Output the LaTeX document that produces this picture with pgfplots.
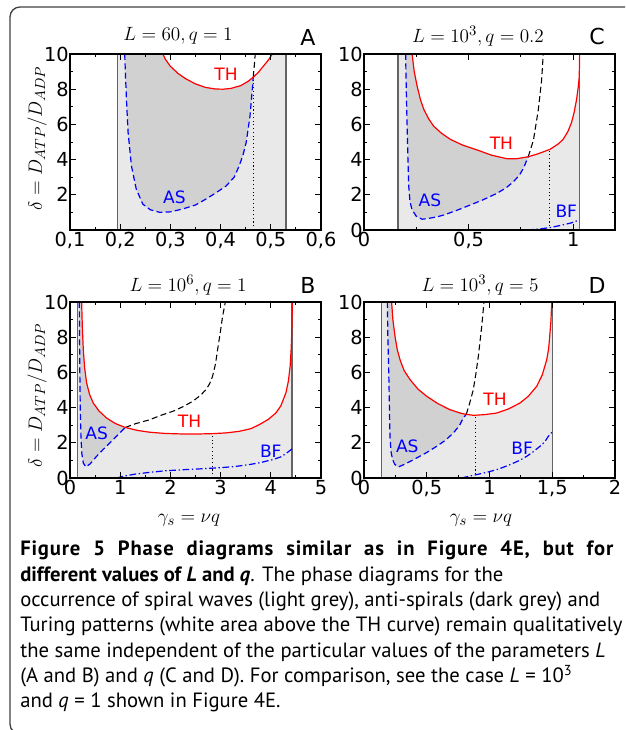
\documentclass[border=0pt]{standalone}
\usepackage{fontspec}
\setmainfont{DejaVu Sans}
\newfontfamily\capfont{PT Sans}
\newfontfamily\capfontls[LetterSpace=4]{PT Sans}
\usepackage{pgfplots}
\pgfplotsset{compat=1.18}

\definecolor{lightg}{RGB}{233,233,233}
\definecolor{darkg}{RGB}{209,209,209}
\definecolor{vline}{RGB}{100,100,100}

\tikzset{lab/.style={font=\fontsize{12.8}{13}\selectfont}}
\pgfplotsset{
  panel/.style={
    scale only axis, width=188.25pt, height=132pt,
    ymin=0, ymax=10, axis on top,
    axis line style={line width=0.9pt, black},
    tick align=inside, xtick pos=both, ytick pos=both,
    major tick length=4.5pt, minor tick length=2.3pt,
    every tick/.style={black, line width=0.7pt},
    minor ytick={1,3,5,7,9},
    ytick={0,2,4,6,8,10}, yticklabels={0,2,4,6,8,10},
    tick label style={font=\fontsize{14.5}{15}\selectfont},
    yticklabel style={inner sep=0.8pt},
    xticklabel style={inner sep=1.5pt},
  },
  sep/.style={draw=vline, line width=1.1pt},
  th/.style={red, line width=0.9pt},
  as/.style={blue, line width=0.9pt, dash pattern=on 4.5pt off 2.5pt},
  ext/.style={black, line width=0.8pt, dash pattern=on 4.5pt off 2.5pt},
  bf/.style={blue, line width=0.9pt, dash pattern=on 5pt off 2pt on 1pt off 2pt},
  dot/.style={black, line width=0.8pt, dotted},
}

\begin{document}
\begin{tikzpicture}[x=0.75pt,y=0.75pt]
\path[use as bounding box] (0,0) rectangle (625,730);
\clip (0,0) rectangle (625,730);
\draw[black!75, line width=1pt, rounded corners=7.5pt] (10,-4) rectangle (650,723);
\coordinate (pA) at (70,500);
\coordinate (pC) at (364,500);
\coordinate (pB) at (70,252);
\coordinate (pD) at (364,252);

% ---------------- A ----------------
\begin{axis}[panel, at={(pA)}, anchor=south west,
  xmin=0.1, xmax=0.6,
  xtick={0.1,0.2,0.3,0.4,0.5,0.6},
  xticklabels={{0,1},{0,2},{0,3},{0,4},{0,5},{0,6}},
  minor xtick={0.15,0.25,0.35,0.45,0.55},
  ytick={2,4,6,8,10}, yticklabels={2,4,6,8,10}]
\addplot[draw=none, fill=lightg] coordinates {(0.195,0) (0.53,0) (0.53,10) (0.195,10)} -- cycle;
\addplot[draw=none, fill=white] coordinates {
 (0.285,10) (0.29,9.7) (0.30,9.3) (0.315,8.9) (0.33,8.6) (0.35,8.3) (0.37,8.1) (0.39,8.01)
 (0.405,8.0) (0.42,8.04) (0.44,8.2) (0.455,8.45) (0.465,8.68) (0.475,8.95) (0.485,9.3)
 (0.495,9.65) (0.503,10)} -- cycle;
\addplot[draw=none, fill=darkg] coordinates {
 (0.209,10) (0.2105,8.8) (0.2125,7.4) (0.2157,5.55) (0.2224,3.64) (0.232,2.32) (0.245,1.47)
 (0.26,1.15) (0.279,1.0) (0.30,1.03) (0.324,1.19) (0.35,1.42) (0.371,1.76) (0.39,2.1)
 (0.411,2.5) (0.427,3.0) (0.437,3.64) (0.445,4.3) (0.451,4.98) (0.4585,6.46) (0.4637,8.16)
 (0.465,8.68) (0.455,8.45) (0.44,8.2) (0.42,8.04) (0.405,8.0) (0.39,8.01) (0.37,8.1)
 (0.35,8.3) (0.33,8.6) (0.315,8.9) (0.30,9.3) (0.29,9.7) (0.285,10)} -- cycle;
\addplot[sep] coordinates {(0.195,0) (0.195,10)};
\addplot[sep] coordinates {(0.53,0) (0.53,10)};
\addplot[dot] coordinates {(0.466,0) (0.466,8.68)};
\addplot[as] coordinates {
 (0.209,10) (0.2105,8.8) (0.2125,7.4) (0.2157,5.55) (0.2224,3.64) (0.232,2.32) (0.245,1.47)
 (0.26,1.15) (0.279,1.0) (0.30,1.03) (0.324,1.19) (0.35,1.42) (0.371,1.76) (0.39,2.1)
 (0.411,2.5) (0.427,3.0) (0.437,3.64) (0.445,4.3) (0.451,4.98) (0.4585,6.46) (0.4637,8.16)
 (0.465,8.68)};
\addplot[ext] coordinates {(0.465,8.68) (0.467,9.3) (0.469,10)};
\addplot[th] coordinates {
 (0.285,10) (0.29,9.7) (0.30,9.3) (0.315,8.9) (0.33,8.6) (0.35,8.3) (0.37,8.1) (0.39,8.01)
 (0.405,8.0) (0.42,8.04) (0.44,8.2) (0.455,8.45) (0.465,8.68) (0.475,8.95) (0.485,9.3)
 (0.495,9.65) (0.503,10)};
\node[lab, red] at (axis cs:0.411,8.84) {TH};
\node[lab, blue] at (axis cs:0.308,1.85) {AS};
\end{axis}

% ---------------- C ----------------
\begin{axis}[panel, at={(pC)}, anchor=south west,
  xmin=0, xmax=1.2,
  xtick={0,0.5,1}, xticklabels={0,{0,5},1},
  minor xtick={0.25,0.75}]
\addplot[draw=none, fill=lightg] coordinates {(0.162,0) (1.029,0) (1.029,10) (0.162,10)} -- cycle;
\addplot[draw=none, fill=white] coordinates {
 (0.23,10) (0.24,9.0) (0.254,8.17) (0.27,7.4) (0.286,6.85) (0.31,6.3) (0.333,5.9) (0.37,5.5)
 (0.413,5.15) (0.47,4.83) (0.54,4.55) (0.61,4.25) (0.683,4.05) (0.73,4.05) (0.785,4.16)
 (0.83,4.32) (0.889,4.58) (0.93,4.9) (0.952,5.15) (0.975,5.6) (0.992,6.1) (1.005,6.7)
 (1.016,7.4) (1.024,8.1) (1.029,8.7) (1.031,10)} -- cycle;
\addplot[draw=none, fill=darkg] coordinates {
 (0.199,10) (0.202,8) (0.205,6.5) (0.207,5.5) (0.21,4) (0.214,2.46) (0.22,1.6) (0.23,1.14)
 (0.25,0.78) (0.278,0.61) (0.31,0.66) (0.35,0.75) (0.381,0.85) (0.44,1.1) (0.508,1.42)
 (0.57,1.72) (0.635,2.08) (0.68,2.4) (0.714,2.74) (0.742,3.1) (0.762,3.5) (0.785,4.16)
 (0.73,4.05) (0.683,4.05) (0.61,4.25) (0.54,4.55) (0.47,4.83) (0.413,5.15) (0.37,5.5)
 (0.333,5.9) (0.31,6.3) (0.286,6.85) (0.27,7.4) (0.254,8.17) (0.24,9.0) (0.23,10)} -- cycle;
\addplot[sep] coordinates {(0.162,0) (0.162,10)};
\addplot[sep] coordinates {(1.029,0) (1.029,10)};
\addplot[dot] coordinates {(0.889,0) (0.889,4.58)};
\addplot[bf] coordinates {(0.78,0) (0.84,0.06) (0.89,0.14) (0.94,0.26) (0.99,0.4) (1.029,0.57)};
\addplot[as] coordinates {
 (0.199,10) (0.202,8) (0.205,6.5) (0.207,5.5) (0.21,4) (0.214,2.46) (0.22,1.6) (0.23,1.14)
 (0.25,0.78) (0.278,0.61) (0.31,0.66) (0.35,0.75) (0.381,0.85) (0.44,1.1) (0.508,1.42)
 (0.57,1.72) (0.635,2.08) (0.68,2.4) (0.714,2.74) (0.742,3.1) (0.762,3.5) (0.785,4.16)};
\addplot[ext] coordinates {(0.785,4.16) (0.81,5.1) (0.833,6.8) (0.849,8.5) (0.857,10)};
\addplot[th] coordinates {
 (0.23,10) (0.24,9.0) (0.254,8.17) (0.27,7.4) (0.286,6.85) (0.31,6.3) (0.333,5.9) (0.37,5.5)
 (0.413,5.15) (0.47,4.83) (0.54,4.55) (0.61,4.25) (0.683,4.05) (0.73,4.05) (0.785,4.16)
 (0.83,4.32) (0.889,4.58) (0.93,4.9) (0.952,5.15) (0.975,5.6) (0.992,6.1) (1.005,6.7)
 (1.016,7.4) (1.024,8.1) (1.029,8.7) (1.031,10)};
\node[lab, red] at (axis cs:0.657,4.93) {TH};
\node[lab, blue] at (axis cs:0.315,1.7) {AS};
\node[lab, blue] at (axis cs:0.967,1.08) {BF};
\end{axis}

% ---------------- B ----------------
\begin{axis}[panel, at={(pB)}, anchor=south west,
  xmin=0, xmax=5,
  xtick={0,1,2,3,4,5}, xticklabels={0,1,2,3,4,5},
  minor xtick={0.5,1.5,2.5,3.5,4.5}]
\addplot[draw=none, fill=lightg] coordinates {(0.145,0) (4.42,0) (4.42,10) (0.145,10)} -- cycle;
\addplot[draw=none, fill=white] coordinates {
 (0.232,10) (0.245,8.6) (0.265,7.29) (0.29,6.3) (0.331,5.4) (0.39,4.75) (0.463,4.26) (0.58,3.8)
 (0.728,3.41) (0.9,3.1) (1.10,2.87) (1.35,2.7) (1.587,2.6) (1.9,2.53) (2.25,2.5) (2.55,2.5)
 (2.84,2.52) (3.1,2.56) (3.37,2.65) (3.6,2.8) (3.77,3.03) (3.95,3.33) (4.10,3.69) (4.2,4.1)
 (4.30,4.83) (4.35,5.5) (4.385,6.34) (4.405,7.3) (4.418,8.24) (4.43,10)} -- cycle;
\addplot[draw=none, fill=darkg] coordinates {
 (0.185,10) (0.19,8) (0.198,5.4) (0.205,3.8) (0.218,2.37) (0.235,1.4) (0.265,0.85) (0.317,0.63)
 (0.4,0.8) (0.529,1.23) (0.66,1.62) (0.794,1.99) (0.93,2.38) (1.058,2.75) (1.10,2.87)
 (0.9,3.1) (0.728,3.41) (0.58,3.8) (0.463,4.26) (0.39,4.75) (0.331,5.4) (0.29,6.3)
 (0.265,7.29) (0.245,8.6) (0.232,10)} -- cycle;
\addplot[sep] coordinates {(0.145,0) (0.145,10)};
\addplot[sep] coordinates {(4.42,0) (4.42,10)};
\addplot[dot] coordinates {(2.83,0) (2.83,2.52)};
\addplot[bf] coordinates {
 (0.926,0) (1.1,0.12) (1.3,0.22) (1.587,0.32) (1.9,0.41) (2.25,0.47) (2.6,0.52) (2.91,0.57)
 (3.25,0.64) (3.57,0.76) (3.8,0.88) (4.03,1.04) (4.2,1.2) (4.30,1.38) (4.42,1.65)};
\addplot[as] coordinates {
 (0.185,10) (0.19,8) (0.198,5.4) (0.205,3.8) (0.218,2.37) (0.235,1.4) (0.265,0.85) (0.317,0.63)
 (0.4,0.8) (0.529,1.23) (0.66,1.62) (0.794,1.99) (0.93,2.38) (1.058,2.75) (1.10,2.87)};
\addplot[ext] coordinates {
 (1.10,2.87) (1.3,3.08) (1.587,3.31) (1.8,3.55) (2.05,3.79) (2.25,4.05) (2.447,4.36) (2.6,4.7)
 (2.71,5.02) (2.78,5.35) (2.84,5.78) (2.9,6.5) (2.94,7.29) (2.99,8.2) (3.04,9.19) (3.095,10)};
\addplot[th] coordinates {
 (0.232,10) (0.245,8.6) (0.265,7.29) (0.29,6.3) (0.331,5.4) (0.39,4.75) (0.463,4.26) (0.58,3.8)
 (0.728,3.41) (0.9,3.1) (1.10,2.87) (1.35,2.7) (1.587,2.6) (1.9,2.53) (2.25,2.5) (2.55,2.5)
 (2.84,2.52) (3.1,2.56) (3.37,2.65) (3.6,2.8) (3.77,3.03) (3.95,3.33) (4.10,3.69) (4.2,4.1)
 (4.30,4.83) (4.35,5.5) (4.385,6.34) (4.405,7.3) (4.418,8.24) (4.43,10)};
\node[lab, red] at (axis cs:2.38,3.22) {TH};
\node[lab, blue] at (axis cs:0.53,2.52) {AS};
\node[lab, blue] at (axis cs:4.0,1.52) {BF};
\end{axis}

% ---------------- D ----------------
\begin{axis}[panel, at={(pD)}, anchor=south west,
  xmin=0, xmax=2,
  xtick={0,0.5,1,1.5,2}, xticklabels={0,{0,5},1,{1,5},2},
  minor xtick={0.25,0.75,1.25,1.75}]
\addplot[draw=none, fill=lightg] coordinates {(0.141,0) (1.503,0) (1.503,10) (0.141,10)} -- cycle;
\addplot[draw=none, fill=white] coordinates {
 (0.22,10) (0.23,9.0) (0.247,8.05) (0.265,7.3) (0.287,6.72) (0.32,6.1) (0.367,5.59) (0.43,5.05)
 (0.5,4.64) (0.59,4.22) (0.685,3.88) (0.78,3.66) (0.815,3.62) (0.871,3.56) (0.96,3.6)
 (1.057,3.69) (1.15,3.92) (1.243,4.26) (1.31,4.65) (1.376,5.21) (1.42,5.85) (1.456,6.72)
 (1.472,7.4) (1.482,8.24) (1.49,9.0) (1.496,10)} -- cycle;
\addplot[draw=none, fill=darkg] coordinates {
 (0.186,10) (0.19,8) (0.199,5.4) (0.203,3.8) (0.207,2.37) (0.215,1.5) (0.228,1.04) (0.245,0.78)
 (0.273,0.625) (0.33,0.8) (0.42,1.14) (0.5,1.45) (0.579,1.8) (0.65,2.15) (0.712,2.56)
 (0.76,2.97) (0.791,3.41) (0.815,3.62) (0.78,3.66) (0.685,3.88) (0.59,4.22) (0.5,4.64)
 (0.43,5.05) (0.367,5.59) (0.32,6.1) (0.287,6.72) (0.265,7.3) (0.247,8.05) (0.23,9.0)
 (0.22,10)} -- cycle;
\addplot[sep] coordinates {(0.141,0) (0.141,10)};
\addplot[sep] coordinates {(1.503,0) (1.503,10)};
\addplot[dot] coordinates {(0.89,0) (0.89,3.56)};
\addplot[bf] coordinates {
 (0.778,0) (0.87,0.15) (0.978,0.32) (1.07,0.5) (1.163,0.76) (1.24,1.0) (1.296,1.23) (1.35,1.5)
 (1.402,1.8) (1.44,2.05) (1.469,2.37) (1.503,2.65)};
\addplot[as] coordinates {
 (0.186,10) (0.19,8) (0.199,5.4) (0.203,3.8) (0.207,2.37) (0.215,1.5) (0.228,1.04) (0.245,0.78)
 (0.273,0.625) (0.33,0.8) (0.42,1.14) (0.5,1.45) (0.579,1.8) (0.65,2.15) (0.712,2.56)
 (0.76,2.97) (0.791,3.41) (0.815,3.62)};
\addplot[ext] coordinates {
 (0.815,3.62) (0.84,4.2) (0.871,5.02) (0.891,5.9) (0.911,6.91) (0.925,7.8) (0.938,8.62) (0.956,10)};
\addplot[th] coordinates {
 (0.22,10) (0.23,9.0) (0.247,8.05) (0.265,7.3) (0.287,6.72) (0.32,6.1) (0.367,5.59) (0.43,5.05)
 (0.5,4.64) (0.59,4.22) (0.685,3.88) (0.78,3.66) (0.815,3.62) (0.871,3.56) (0.96,3.6)
 (1.057,3.69) (1.15,3.92) (1.243,4.26) (1.31,4.65) (1.376,5.21) (1.42,5.85) (1.456,6.72)
 (1.472,7.4) (1.482,8.24) (1.49,9.0) (1.496,10)};
\node[lab, red] at (axis cs:1.044,4.5) {TH};
\node[lab, blue] at (axis cs:0.345,1.8) {AS};
\node[lab, blue] at (axis cs:1.26,1.7) {BF};
\end{axis}

% titles, panel letters, axis labels
\node at (178,694) {\fontsize{15.5}{15.5}\selectfont $L=60, q=1$};
\node at (478,694) {\fontsize{15.5}{15.5}\selectfont $L=10^3, q=0.2$};
\node at (188,445) {\fontsize{15.5}{15.5}\selectfont $L=10^6, q=1$};
\node at (480,445) {\fontsize{15.5}{15.5}\selectfont $L=10^3, q=5$};
\node at (308,693) {\fontsize{16.5}{17}\selectfont A};
\node at (597,693) {\fontsize{16.5}{17}\selectfont C};
\node at (308,445) {\fontsize{16.5}{17}\selectfont B};
\node at (597,445) {\fontsize{16.5}{17}\selectfont D};
\node[rotate=90, anchor=west] at (37,515) {\fontsize{15}{15}\selectfont $\delta = D_{ATP}/D_{ADP}$};
\node[rotate=90, anchor=west] at (37,258) {\fontsize{15}{15}\selectfont $\delta = D_{ATP}/D_{ADP}$};
\node at (189,210) {\fontsize{15}{15}\selectfont $\gamma_s = \nu q$};
\node at (481,210) {\fontsize{15}{15}\selectfont $\gamma_s = \nu q$};

% caption
\begin{scope}[every node/.style={anchor=base west, inner sep=0pt, font=\capfont\fontsize{15.5}{16}\selectfont}]
\node at (20,174) {\makebox[444.75pt][s]{\capfontls\fontsize{15.5}{16}\selectfont\bfseries Figure 5 Phase diagrams similar as in Figure 4E, but for}};
\node at (20,148.7) {\textbf{different values of \textit{L} and \textit{q}}. The phase diagrams for the};
\node at (20,123.4) {occurrence of spiral waves (light grey), anti-spirals (dark grey) and};
\node at (20,98.1) {Turing patterns (white area above the TH curve) remain qualitatively};
\node at (20,72.8) {the same independent of the particular values of the parameters \textit{L}};
\node at (20,47.5) {(A and B) and \textit{q} (C and D). For comparison, see the case \textit{L} = 10\textsuperscript{3}};
\node at (20,22.2) {and \textit{q} = 1 shown in Figure 4E.};
\end{scope}
\end{tikzpicture}
\end{document}
